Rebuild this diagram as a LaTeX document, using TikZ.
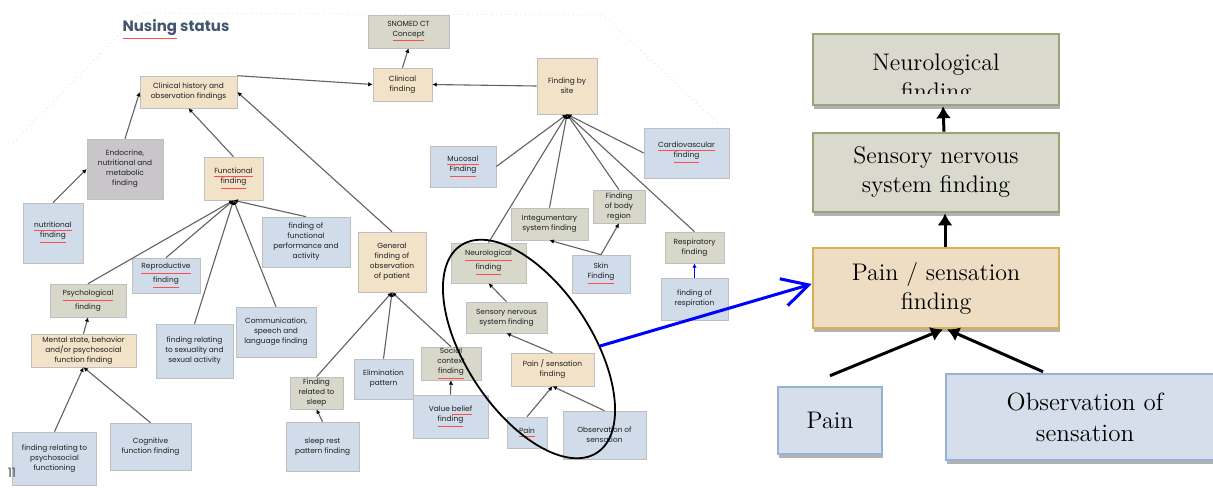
\documentclass[tikz,border=0pt]{standalone}
\usepackage{fontspec}
\usepackage{xcolor}
\usepackage{tikz}
\tikzset{>=latex}
\usetikzlibrary{arrows.meta, shadows}

\newfontfamily\gothic{Poppins}
\newcommand{\squig}[1]{\colorlet{sqsave}{.}{\color{red!70}\underline{\color{sqsave}#1}}}

\definecolor{cTan}{RGB}{241,226,200}
\definecolor{cGrn}{RGB}{215,216,202}
\definecolor{cBlu}{RGB}{208,220,234}
\definecolor{cGry}{RGB}{200,198,201}
\definecolor{cTitle}{RGB}{66,86,110}
\definecolor{bigTan}{RGB}{238,221,195}
\definecolor{bigTanLine}{RGB}{218,176,86}
\definecolor{bigGrn}{RGB}{217,217,205}
\definecolor{bigGrnLine}{RGB}{155,165,120}
\definecolor{bigBlu}{RGB}{213,222,234}
\definecolor{bigBluLine}{RGB}{149,179,214}

\tikzset{
  sz/.style 2 args={minimum width=#1*0.5pt, minimum height=#2*0.5pt},
  smbox/.style={draw=black!25, line width=0.3pt, inner sep=0pt, align=center,
    text=black!88, font=\gothic\fontsize{3.7}{5}\selectfont,
    drop shadow={shadow xshift=0.4pt, shadow yshift=-0.7pt, fill=black!70, opacity=0.45}},
  tanbox/.style={smbox, fill=cTan},
  grnbox/.style={smbox, fill=cGrn},
  blubox/.style={smbox, fill=cBlu},
  grybox/.style={smbox, fill=cGry},
  link/.style={draw=black!62, line width=0.55pt, -{Latex[black,length=2.2pt,width=2.2pt]}},
  bigbox/.style={line width=1.3pt, inner sep=0pt, align=center,
    drop shadow={shadow xshift=0.5pt, shadow yshift=-2pt, fill=black, opacity=0.3}},
  bigtext/.style={inner sep=0pt, align=center, font=\fontsize{12}{14.5}\selectfont},
  bigarrow/.style={line width=1.5pt, -{Latex[length=6pt,width=7.5pt]}},
  zoomline/.style={draw=blue, line width=1.5pt, -{Straight Barb[length=13pt,width=14pt]}},
}

\begin{document}
\begin{tikzpicture}[x=0.5pt, y=-0.5pt]
\useasboundingbox (0,0) rectangle (1213,487);

% slide outline
\draw[black!15, dotted, line width=0.4pt] (13,143) -- (140,13) -- (603,15) -- (733,137);

\node[font=\gothic\bfseries\fontsize{7.5}{9}\selectfont, text=cTitle] (title) at (176,30) {\squig{Nusing} status};

\node[tanbox, sz={97}{32}] (clinhist) at (188.5,92) {Clinical history and\\observation findings};
\node[grybox, sz={76}{60}] (endo) at (125,169) {Endocrine,\\nutritional and\\metabolic\\finding};
\node[tanbox, sz={59}{43}] (func) at (233.5,178.5) {\squig{Functional}\\\squig{finding}};
\node[blubox, sz={60}{60}] (nutr) at (53,233) {\squig{nutritional}\\\squig{finding}};
\node[grnbox, sz={81}{33}] (snomed) at (408.5,31.5) {SNOMED CT\\\squig{Concept}};
\node[tanbox, sz={59}{33}] (clinfind) at (402.5,84.5) {Clinical\\finding};
\node[tanbox, sz={60}{56}] (bysite) at (567,86) {Finding by\\site};
\node[blubox, sz={66}{41}] (mucosal) at (463,166.5) {\squig{Mucosal}\\\squig{Finding}};
\node[grnbox, sz={77}{32}] (integ) at (549.5,224) {Integumentary\\system finding};
\node[grnbox, sz={52}{33}] (bodyreg) at (619,206.5) {Finding\\of body\\region};
\node[blubox, sz={85}{50}] (cardio) at (686.5,153) {\squig{Cardiovascular}\\\squig{finding}};
\node[grnbox, sz={59}{31}] (resp) at (694.5,247.5) {Respiratory\\finding};
\node[blubox, sz={67}{42}] (respn) at (694.5,299) {finding of\\respiration};
\node[blubox, sz={58}{38}] (skin) at (601,274) {Skin\\\squig{Finding}};
\node[blubox, sz={88}{50}] (funcperf) at (306,242) {finding of\\functional\\performance and\\activity};
\node[tanbox, sz={68}{60}] (general) at (392,262) {General\\finding of\\observation\\of patient};
\node[blubox, sz={80}{50}] (comm) at (276,332) {Communication,\\speech and\\language finding};
\node[blubox, sz={59}{40}] (elim) at (383.5,379) {Elimination\\pattern};
\node[grnbox, sz={60}{33}] (social) at (451,363.5) {Social\\context\\\squig{finding}};
\node[blubox, sz={75}{43}] (value) at (450.5,416.5) {Value \squig{belief}\\\squig{finding}};
\node[grnbox, sz={53}{32}] (sleep) at (316.5,393) {Finding\\related to\\sleep};
\node[blubox, sz={73}{49}] (sleeprest) at (322.5,446.5) {sleep rest\\pattern finding};
\node[grnbox, sz={75}{40}] (nsmall) at (488.5,263) {\squig{Neurological}\\\squig{finding}};
\node[grnbox, sz={81}{31}] (ssmall) at (506.5,317.5) {Sensory nervous\\system finding};
\node[tanbox, sz={83}{33}] (psmall) at (552.5,369.5) {Pain / sensation\\finding};
\node[blubox, sz={40}{31}] (painsm) at (527,432.5) {\squig{Pain}};
\node[blubox, sz={83}{48}] (obssm) at (604.5,435) {Observation of\\sensation};
\node[blubox, sz={68}{35}] (repro) at (166,275.5) {\squig{Reproductive}\\\squig{finding}};
\node[grnbox, sz={76}{33}] (psych) at (88,300.5) {\squig{Psychological}\\finding};
\node[tanbox, sz={105}{33}] (mental) at (83.5,350.5) {Mental state, behavior\\and/or psychosocial\\function finding};
\node[blubox, sz={77}{54}] (sexual) at (194.5,351) {finding relating\\to sexuality and\\sexual activity};
\node[blubox, sz={84}{53}] (psysoc) at (54.5,458.5) {finding relating to\\psychosocial\\functioning};
\node[blubox, sz={81}{47}] (cogn) at (150.5,446.5) {Cognitive\\function finding};
\node[text=black!70, font=\gothic\fontsize{6.5}{7}\selectfont] (slideno) at (12,473) {11};

\draw[link] (nutr.north) -- (endo.west);
\draw[link] (endo.north) -- (clinhist.west);
\draw[link] (func.north) -- (clinhist.south);
\draw[link] (general.north) -- (clinhist.east);
\draw[link] (clinhist.north east) -- (clinfind.west);
\draw[link] (clinfind.north) -- (snomed.south);
\draw[link] (bysite.west) -- (clinfind.east);

\foreach \src in {mucosal.east, integ.north, nsmall.north, bodyreg.north, cardio.west, resp.north}
  \draw[link] (\src) -- (bysite.south);
\draw[link, draw=blue, -{Latex[blue,length=2.2pt,width=2.2pt]}] (respn.north) -- (resp.south);
\draw[link] (skin.north) -- (integ.south);
\draw[link] (skin.north) -- (bodyreg.south);

\foreach \src in {psych.north, repro.north, sexual.north, comm.north, funcperf.north}
  \draw[link] (\src) -- (func.south);
\draw[link] (mental.north) -- (psych.south);
\draw[link] (psysoc.north) -- (mental.south);
\draw[link] (cogn.north) -- (mental.south);

\foreach \src in {sleep.north, elim.north, social.north}
  \draw[link] (\src) -- (general.south);
\draw[link] (sleeprest.north) -- (sleep.south);
\draw[link] (value.north) -- (social.south);

\draw[link] (ssmall.north) -- (nsmall.south);
\draw[link] (psmall.north) -- (ssmall.south);
\draw[link] (painsm.north) -- (psmall.south);
\draw[link] (obssm.north) -- (psmall.south);

% zoom lens
\draw[line width=0.9pt, rotate around={-56.7:(529,349)}] (529,349) ellipse [x radius=124, y radius=63];

% enlarged part
\node[bigbox, fill=bigGrn, draw=bigGrnLine, sz={246}{71}] (neurobig) at (936,69.5) {};
\begin{scope}
  \clip (813,34) rectangle (1059,93);
  \node[bigtext] (neurotxt) at (936,79) {Neurological\\finding};
\end{scope}
\node[bigbox, fill=bigGrn, draw=bigGrnLine, sz={246}{79}, font=\fontsize{12}{14.5}\selectfont] (sensbig) at (936,172.5) {Sensory nervous\\system finding};
\node[bigbox, fill=bigTan, draw=bigTanLine, sz={246}{80}, font=\fontsize{12}{14.5}\selectfont] (painbig) at (936,288) {Pain / sensation\\finding};
\node[bigbox, fill=bigBlu, draw=bigBluLine, sz={104}{67}, font=\fontsize{12}{14.5}\selectfont] (painb) at (830,420.5) {Pain};
\node[bigbox, fill=bigBlu, draw=bigBluLine, sz={278}{86}, font=\fontsize{12.5}{15.5}\selectfont] (obsb) at (1085,417) {Observation of\\sensation};

\draw[bigarrow] ([xshift=4pt]sensbig.north) -- ([xshift=3.5pt]neurobig.south);
\draw[bigarrow] ([xshift=4.5pt]painbig.north) -- ([xshift=4.5pt]sensbig.south);
\draw[bigarrow] ([yshift=5pt]painb.north) -- ([xshift=3.5pt]painbig.south);
\draw[bigarrow] ([xshift=-21pt,yshift=0.5pt]obsb.north) -- ([xshift=5.5pt]painbig.south);

\coordinate (lens) at (600,346);
\draw[zoomline] (lens) -- ([yshift=2pt]painbig.west);

\end{tikzpicture}
\end{document}
